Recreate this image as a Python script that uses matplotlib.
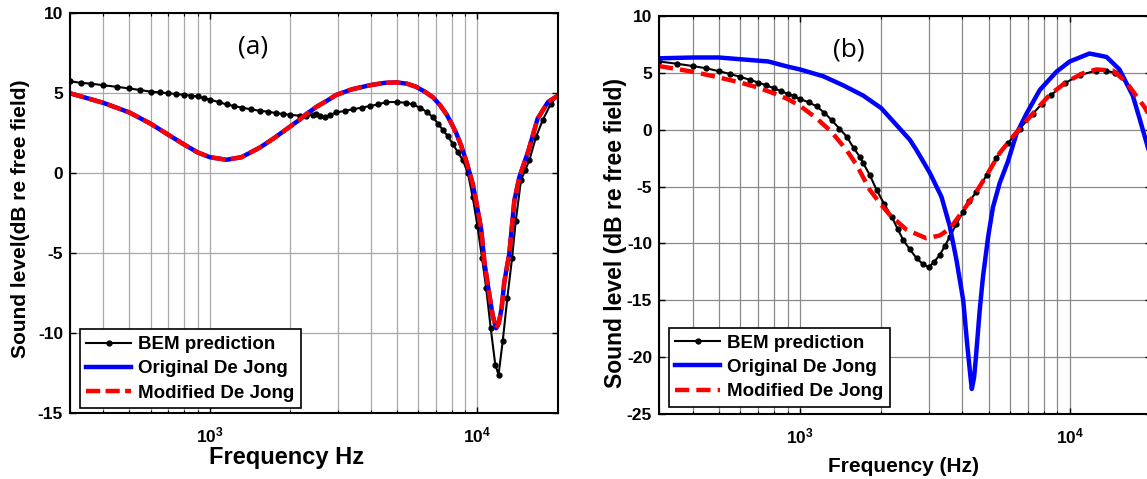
import matplotlib
matplotlib.use('Agg')
import matplotlib.pyplot as plt
from matplotlib.ticker import FixedLocator, FixedFormatter, NullFormatter
import numpy as np

plt.rcParams['font.family'] = ['Liberation Sans', 'DejaVu Sans']
plt.rcParams['font.weight'] = 'bold'
plt.rcParams['axes.unicode_minus'] = False
plt.rcParams['mathtext.fontset'] = 'custom'
plt.rcParams['mathtext.bf'] = 'Liberation Sans:bold'
plt.rcParams['mathtext.rm'] = 'Liberation Sans:bold'

# ---- panel (a) data ----
bem_a_f = [300, 330, 360, 400, 450, 500, 550, 600, 650, 700, 750, 800, 850, 900, 950,
           1000, 1080, 1154, 1230, 1313, 1420, 1536, 1650, 1773, 1880, 1988, 2166, 2294,
           2420, 2502, 2580, 2684, 2820, 2970, 3200, 3425, 3700, 3957, 4250, 4568, 5000,
           5417, 5750, 6079, 6450, 6816, 7120, 7429, 7760, 8097, 8460, 8825, 9210, 9600,
           10000, 10400, 10780, 11210, 11660, 11990, 12430, 12930, 13470, 13900, 14540,
           15080, 15620, 16540, 17510, 18810, 19970]
bem_a_db = [5.75, 5.65, 5.6, 5.5, 5.4, 5.3, 5.2, 5.1, 5.05, 5.0, 4.95, 4.9, 4.85, 4.8, 4.7,
            4.6, 4.45, 4.3, 4.2, 4.1, 4.0, 3.9, 3.85, 3.75, 3.7, 3.65, 3.6, 3.6,
            3.65, 3.7, 3.6, 3.5, 3.65, 3.8, 3.9, 4.0, 4.1, 4.2, 4.3, 4.45, 4.45,
            4.4, 4.3, 4.1, 3.85, 3.5, 3.1, 2.7, 2.3, 1.8, 1.3, 0.8, 0.0, -1.5,
            -3.3, -5.3, -7.2, -9.7, -12.0, -12.6, -10.5, -7.8, -5.3, -3.0, -0.45,
            0.2, 0.8, 2.25, 3.3, 4.35, 4.85]

mod_a_f = [300, 400, 500, 600, 700, 800, 900, 1000, 1154, 1313, 1536, 1723, 1988, 2166,
           2294, 2502, 2750, 2970, 3400, 3957, 4500, 4970, 5450, 5906, 6350, 6816, 7250,
           7650, 8000, 8334, 8700, 9064, 9590, 9870, 10326, 10620, 11050, 11400, 11744,
           12000, 12300, 12600, 13160, 13740, 14340, 15500, 16770, 18340, 19970]
mod_a_db = [5.0, 4.4, 3.8, 3.1, 2.4, 1.8, 1.3, 1.0, 0.84, 1.0, 1.6, 2.15, 2.9, 3.35,
            3.7, 4.15, 4.55, 4.9, 5.25, 5.5, 5.65, 5.68, 5.6, 5.4, 5.1, 4.75, 4.25,
            3.7, 3.1, 2.5, 1.7, 0.8, -0.65, -1.7, -3.5, -5.6, -7.5, -8.9, -9.7,
            -9.4, -8.5, -6.8, -5.0, -1.7, -0.25, 1.4, 3.4, 4.45, 4.85]
# original and modified De Jong coincide in (a)
orig_a_f = list(mod_a_f)
orig_a_db = list(mod_a_db)

# ---- panel (b) data ----
bem_b_f = [300, 350, 400, 450, 500, 550, 600, 650, 700, 750, 800, 850, 900, 950, 1000,
           1080, 1153, 1230, 1310, 1400, 1489, 1580, 1668, 1716, 1816, 1923, 2050, 2187,
           2300, 2413, 2550, 2705, 2850, 3000, 3150, 3300, 3450, 3594, 3800, 4029, 4250,
           4509, 4924, 5340, 5900, 6530, 7300, 7900, 8540, 9600, 10890, 12550, 13600, 14700]
bem_b_db = [6.0, 5.8, 5.6, 5.4, 5.15, 4.9, 4.65, 4.4, 4.15, 3.9, 3.65, 3.4, 3.15, 2.95, 2.7,
            2.4, 2.05, 1.5, 0.85, 0.1, -0.6, -1.6, -2.4, -2.95, -4.0, -5.3, -6.5, -7.65,
            -8.7, -9.7, -10.5, -11.3, -11.8, -12.1, -11.6, -11.0, -10.2, -9.4, -8.3, -7.2, -6.3,
            -5.45, -4.0, -2.5, -1.2, 0.1, 1.4, 2.3, 3.05, 4.1, 4.8, 5.2, 5.2, 5.0]

orig_b_f = [300, 400, 500, 600, 763, 900, 1000, 1220, 1447, 1716, 2000, 2343, 2557, 2705,
            3030, 3346, 3594, 3806, 4029, 4165, 4285, 4335, 4420, 4480, 4637, 4771, 4985,
            5195, 5500, 5900, 6350, 6910, 7750, 8930, 10000, 11840, 13700, 15290, 17130,
            18200, 19300, 20000]
orig_b_db = [6.28, 6.35, 6.35, 6.2, 6.0, 5.55, 5.3, 4.7, 3.9, 3.0, 1.9, 0.1, -0.9, -1.8,
             -3.8, -5.9, -8.5, -11.5, -15.0, -18.8, -21.7, -22.8, -21.8, -20.3, -15.9, -12.9, -9.4,
             -6.8, -4.7, -2.8, -0.35, 1.4, 3.5, 5.1, 6.0, 6.7, 6.4, 5.3, 3.0,
             0.9, -1.2, -2.5]

mod_b_f = [300, 400, 500, 600, 700, 800, 900, 1000, 1153, 1310, 1489, 1622, 1816, 2000,
           2154, 2485, 2945, 3300, 3594, 4029, 4509, 4924, 5500, 6160, 7130, 8410, 9720,
           11180, 12550, 14470, 16180, 17500, 18930, 20000]
mod_b_db = [5.6, 5.1, 4.6, 4.15, 3.7, 3.2, 2.7, 2.1, 1.0, -0.2, -1.8, -3.1, -5.3, -6.6,
            -7.5, -8.8, -9.55, -9.3, -8.7, -7.1, -5.45, -4.0, -2.05, -0.6, 1.15, 3.05, 4.2,
            4.96, 5.3, 5.2, 4.2, 3.1, 2.0, 1.0]

labels = ['BEM prediction', 'Original De Jong', 'Modified De Jong']

minor_f = [m * 10 ** e for e in (2, 3, 4) for m in range(2, 10) if 300 <= m * 10 ** e <= 20000]


def style_axes(ax, ymin, ytop, gridcol):
    ax.set_xscale('log')
    ax.set_xlim(300, 20000)
    ax.set_ylim(ymin, ytop)
    ax.set_yticks(np.arange(ymin, ytop + 1, 5))
    ax.xaxis.set_major_locator(FixedLocator([1000, 10000]))
    ax.xaxis.set_major_formatter(FixedFormatter([r'$\mathbf{10^{3}}$', r'$\mathbf{10^{4}}$']))
    ax.xaxis.set_minor_locator(FixedLocator(minor_f))
    ax.xaxis.set_minor_formatter(NullFormatter())
    ax.grid(True, which='major', color=gridcol, lw=0.9)
    ax.grid(True, which='minor', axis='x', color=gridcol, lw=0.9)
    ax.tick_params(which='both', direction='in', top=True, right=True, labelsize=12.5)
    ax.tick_params(axis='x', which='major', pad=9)
    ax.tick_params(axis='y', which='major', pad=5)
    ax.tick_params(which='major', length=4, width=1)
    ax.tick_params(which='minor', length=2.5, width=0.8)
    for s in ax.spines.values():
        s.set_linewidth(1.5)
    ax.set_axisbelow(True)


def add_legend(ax, anchor):
    leg = ax.legend(loc='lower left', bbox_to_anchor=anchor, borderaxespad=0,
                    fancybox=False, framealpha=1, edgecolor='k', fontsize=13.5,
                    handlelength=2.4, labelspacing=0.38, borderpad=0.35, handletextpad=0.35)
    leg.get_frame().set_linewidth(1.2)
    return leg


fig = plt.figure(figsize=(11.47, 4.79), dpi=100)

# panel (a)
ax1 = fig.add_axes([0.0610, 0.1378, 0.4255, 0.8344])
style_axes(ax1, -15, 10, '#a8a8a8')
ax1.plot(bem_a_f, bem_a_db, color='k', lw=1.5, marker='o', ms=3.5, label=labels[0])
ax1.plot(orig_a_f, orig_a_db, color='blue', lw=3.2, label=labels[1])
ax1.plot(mod_a_f, mod_a_db, color='red', lw=3.2, ls=(0, (3.2, 1.2)), label=labels[2])
ax1.set_xlabel('Frequency Hz', fontsize=17, fontweight='bold')
ax1.xaxis.set_label_coords(0.443, -0.082)
ax1.set_ylabel('Sound level(dB re free field)', fontsize=15, fontweight='bold')
ax1.yaxis.set_label_coords(-0.082, 0.487)
ax1.text(0.375, 0.915, '(a)', transform=ax1.transAxes, ha='center', va='center',
         fontsize=19, fontweight='normal', family=['Open Sans', 'DejaVu Sans'])
add_legend(ax1, (0.02, 0.012))

# panel (b)
ax2 = fig.add_axes([0.5745, 0.1357, 0.4289, 0.8309])
style_axes(ax2, -25, 10, '#8a8a8a')
ax2.plot(bem_b_f, bem_b_db, color='k', lw=1.5, marker='o', ms=3.5, label=labels[0])
ax2.plot(orig_b_f, orig_b_db, color='blue', lw=3.2, label=labels[1])
ax2.plot(mod_b_f, mod_b_db, color='red', lw=3.2, ls=(0, (3.2, 1.6)), label=labels[2])
ax2.set_xlabel('Frequency (Hz)', fontsize=15, fontweight='bold')
ax2.xaxis.set_label_coords(0.497, -0.108)
ax2.set_ylabel('Sound level (dB re free field)', fontsize=16.5, fontweight='bold')
ax2.yaxis.set_label_coords(-0.065, 0.455)
ax2.text(0.385, 0.915, '(b)', transform=ax2.transAxes, ha='center', va='center',
         fontsize=19, fontweight='normal', family=['Open Sans', 'DejaVu Sans'])
add_legend(ax2, (0.02, 0.018))

plt.savefig('out.png', dpi=100)
